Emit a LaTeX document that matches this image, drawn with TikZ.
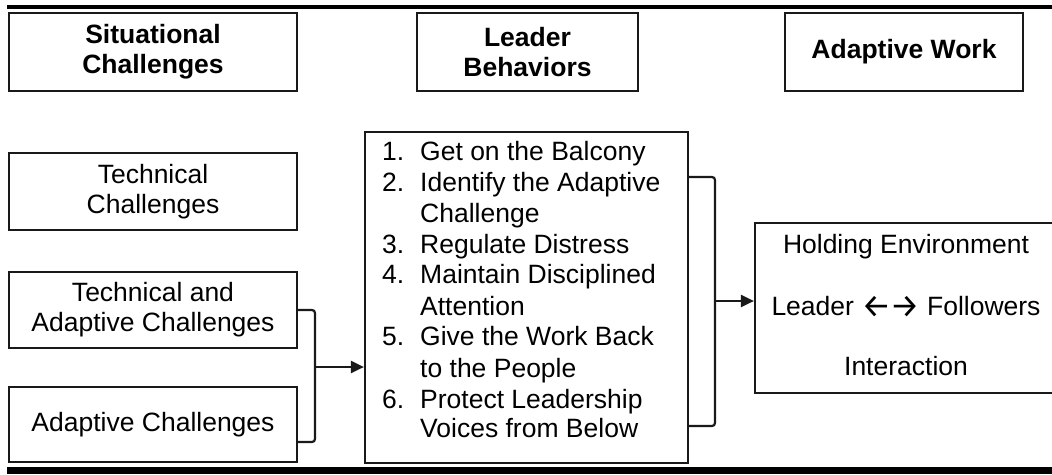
\documentclass[tikz,border=0pt]{standalone}
\usepackage{fontspec}
\usepackage{graphicx}
\setmainfont{Liberation Sans}
\newfontfamily\arrowfont{Fira Sans}
\usetikzlibrary{arrows.meta}
\newcommand\twoway{{\arrowfont\raisebox{-2pt}{\scalebox{1.25}{←\kern-1pt→}}}}

\begin{document}
\begin{tikzpicture}[x=1pt,y=-1pt,
  every node/.style={font=\fontsize{26.5}{30}\selectfont, inner sep=0pt},
  box/.style={draw=black!90, line width=2.2pt, rectangle, align=center},
  head/.style={box, font=\fontsize{26.5}{30}\selectfont\bfseries},
  item/.style={anchor=base west},
  conn/.style={draw=black!90, line width=2.2pt, rounded corners=3pt},
  arrow/.style={draw=black!90, line width=2.2pt, -{Triangle[length=13pt,width=12pt]}}
]
\useasboundingbox (0,0) rectangle (1052,474);

% top rule and bottom band
\draw[line width=4pt] (7,7) -- (1052,7);
\fill (7,467) rectangle (1052,474);

% column headings
\node[head, minimum width=288pt, minimum height=78pt] (sit) at (153,52) {Situational\\Challenges};
\node[head, minimum width=221pt, minimum height=78pt] (lead) at (527.5,52) {Leader\\Behaviors};
\node[head, minimum width=238pt, minimum height=78pt] (work) at (904,52) {Adaptive Work};

% situational challenges
\node[box, minimum width=288pt, minimum height=77pt] (tech) at (153,191.5) {Technical\\Challenges};
\node[box, minimum width=288pt, minimum height=76pt] (techad) at (153,310) {Technical and\\Adaptive Challenges};
\node[box, minimum width=288pt, minimum height=75pt] (adapt) at (153,424.5) {Adaptive Challenges};

% leader behaviours list
\node[box, minimum width=323pt, minimum height=331pt] (list) at (526.5,297.5) {};
\node[item] (n1) at (382,160) {1.};
\node[item] (t1) at (420,160) {Get on the Balcony};
\node[item] (n2) at (382,191) {2.};
\node[item] (t2) at (420,191) {Identify the Adaptive};
\node[item] (t2b) at (420,222) {Challenge};
\node[item] (n3) at (382,253) {3.};
\node[item] (t3) at (420,253) {Regulate Distress};
\node[item] (n4) at (382,283) {4.};
\node[item] (t4) at (420,283) {Maintain Disciplined};
\node[item] (t4b) at (420,315) {Attention};
\node[item] (n5) at (382,345) {5.};
\node[item] (t5) at (420,345) {Give the Work Back};
\node[item] (t5b) at (420,377) {to the People};
\node[item] (n6) at (382,408) {6.};
\node[item] (t6) at (420,408) {Protect Leadership};
\node[item] (t6b) at (420,437) {Voices from Below};

% holding environment
\node[box, minimum width=305pt, minimum height=170pt] (hold) at (907.5,308) {};
\node[anchor=base] (h1) at (906,253) {Holding Environment};
\node[anchor=base] (h2) at (906,315) {Leader \twoway{} Followers};
\node[anchor=base] (h3) at (906,375) {Interaction};

% bracket joining the two lower challenge boxes
\coordinate (jl) at (315,367);
\draw[conn] (techad.east) -| (jl) |- ([yshift=-17.5pt]adapt.east);
\draw[arrow] (jl) -- (list.west |- jl);

% bracket spanning the behaviours list
\coordinate (rt) at (688,177);
\coordinate (rb) at (688,426);
\coordinate (jr) at (715,301);
\draw[conn] (rt) -| (jr) |- (rb);
\draw[arrow] (jr) -- (hold.west |- jr);
\end{tikzpicture}
\end{document}
